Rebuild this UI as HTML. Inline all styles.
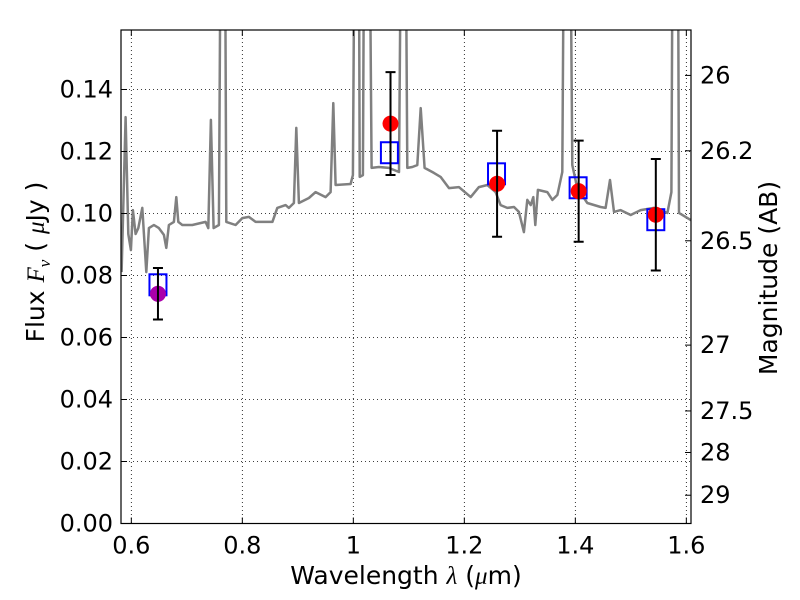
<!DOCTYPE html>
<html><head><meta charset="utf-8"><style>
body{margin:0;background:#fff;}
svg{display:block;font-family:"DejaVu Sans","Liberation Sans",sans-serif;}
</style></head><body>
<svg id="chart" width="800" height="600" viewBox="0 0 800 600" xmlns="http://www.w3.org/2000/svg">
<rect x="0" y="0" width="800" height="600" fill="#fff"/>
<defs><clipPath id="pc"><rect x="121" y="30" width="570" height="493.5"/></clipPath></defs>
<g id="grid"></g>
<g id="spec" clip-path="url(#pc)"></g>
<g id="marks"></g>
<rect x="121" y="30" width="570" height="493.5" fill="none" stroke="#000" stroke-width="1.2"/>
<g id="axes"></g>
<text x="406" y="584" font-size="25" text-anchor="middle">Wavelength  <tspan font-family="Liberation Serif,serif" font-style="italic">λ</tspan> (<tspan font-family="Liberation Serif,serif" font-style="italic">μ</tspan>m)</text>
<text transform="translate(44,262) rotate(-90)" font-size="25" text-anchor="middle">Flux  <tspan font-family="Liberation Serif,serif" font-style="italic">F<tspan font-size="17" dy="6">ν</tspan></tspan><tspan dy="-6">  ( </tspan><tspan font-family="Liberation Serif,serif" font-style="italic">μ</tspan>Jy )</text>
<text transform="translate(777,278) rotate(-90)" font-size="25" text-anchor="middle">Magnitude (AB)</text>
</svg>
<script>
const specWave=[0.5825,0.5897,0.5946,0.5993,0.6029,0.6077,0.6126,0.6198,0.6270,0.6317,0.6407,0.6497,0.6587,0.6631,0.6677,0.6768,0.6811,0.6847,0.6919,0.7099,0.7339,0.7387,0.7434,0.7483,0.7578,0.7627,0.7676,0.7712,0.7879,0.8000,0.8119,0.8240,0.8541,0.8631,0.8780,0.8840,0.8930,0.8973,0.9020,0.9200,0.9321,0.9501,0.9591,0.9640,0.9681,0.9951,0.9993,1.0041,1.0090,1.0114,1.0173,1.0209,1.0270,1.0330,1.0461,1.0641,1.0822,1.0883,1.0924,1.0973,1.1063,1.1153,1.1213,1.1285,1.1452,1.1573,1.1723,1.1903,1.2114,1.2263,1.2414,1.2564,1.2654,1.2775,1.2894,1.2984,1.3074,1.3135,1.3195,1.3243,1.3279,1.3326,1.3495,1.3586,1.3676,1.3766,1.3813,1.3885,1.3946,1.4036,1.4216,1.4456,1.4546,1.4624,1.4696,1.4816,1.4997,1.5177,1.5416,1.5658,1.5730,1.5766,1.5838,1.5867,1.6137];
const specFlux=[0.0811,0.1311,0.0934,0.0882,0.1011,0.0934,0.0953,0.1018,0.0811,0.0953,0.0963,0.0953,0.0931,0.0889,0.0963,0.0973,0.1053,0.0973,0.0963,0.0963,0.0973,0.0953,0.1302,0.0953,0.0963,0.25,0.25,0.0973,0.0963,0.0985,0.0989,0.0973,0.0973,0.1018,0.1027,0.1018,0.1034,0.1276,0.1034,0.1050,0.1069,0.1053,0.1069,0.1356,0.1092,0.1095,0.1124,0.25,0.25,0.1118,0.1124,0.25,0.25,0.1147,0.1150,0.1147,0.1134,0.25,0.25,0.1147,0.1150,0.1156,0.1340,0.1147,0.1131,0.1118,0.1082,0.1085,0.1053,0.1085,0.1092,0.1069,0.1027,0.1018,0.1021,0.1005,0.0940,0.1044,0.1027,0.1053,0.0963,0.1076,0.1069,0.1044,0.1060,0.1134,0.25,0.25,0.1156,0.1082,0.1034,0.1021,0.1018,0.1108,0.1005,0.1011,0.0995,0.1011,0.1018,0.1002,0.1069,0.25,0.25,0.1002,0.0973];
const modelWave=[0.648,1.065,1.258,1.405,1.545];
const modelFlux=[0.0770,0.1196,0.1128,0.1083,0.0980];
const obsWave=[1.067,1.259,1.406,1.545];
const obsFlux=[0.1290,0.1096,0.1072,0.0996];
const obsErr=[0.0166,0.0171,0.0163,0.0180];
const hstWave=[0.648];
const hstFlux=[0.0741];
const hstErr=[0.0083];
const xTicks=[0.6,0.8,1.0,1.2,1.4,1.6];
const xTickLabels=["0.6","0.8","1","1.2","1.4","1.6"];
const yTicks=[0,0.02,0.04,0.06,0.08,0.10,0.12,0.14];
const yTickLabels=["0.00","0.02","0.04","0.06","0.08","0.10","0.12","0.14"];
const magTicks=[26,26.2,26.5,27,27.5,28,29];
const magTickLabels=["26","26.2","26.5","27","27.5","28","29"];

const NS="http://www.w3.org/2000/svg";
const X0=121,X1=691,XMIN=0.5814,XMAX=1.6084,Y0=523.5,YTOP=30,YMAX=(523.5-30)/3100;
const xs=v=>X0+(v-XMIN)/(XMAX-XMIN)*(X1-X0);
const ys=v=>Y0-v/YMAX*(Y0-YTOP);
const magToFlux=m=>Math.pow(10,(23.9-m)/2.5);
function mk(tag,attrs,parent){const e=document.createElementNS(NS,tag);for(const k in attrs)e.setAttribute(k,attrs[k]);parent.appendChild(e);return e;}
const grid=document.getElementById('grid'),axes=document.getElementById('axes'),spec=document.getElementById('spec'),marks=document.getElementById('marks');

xTicks.forEach((t,i)=>{const x=xs(t);
 const g=mk('line',{x1:x,x2:x,y1:YTOP,y2:Y0,stroke:'#000','stroke-width':0.8,'stroke-dasharray':'1,3'},grid);
 
 
 mk('line',{x1:x,x2:x,y1:Y0,y2:Y0-6,stroke:'#000'},axes);
 mk('line',{x1:x,x2:x,y1:YTOP,y2:YTOP+6,stroke:'#000'},axes);
 const tx=mk('text',{x:x,y:Y0+30,'font-size':24,'text-anchor':'middle'},axes);tx.textContent=xTickLabels[i];
 
 
});
yTicks.forEach((t,i)=>{const y=ys(t);
 if(t>0){const g=mk('line',{x1:X0,x2:X1,y1:y,y2:y,stroke:'#000','stroke-width':0.8,'stroke-dasharray':'1,3'},grid);
 
 }
 mk('line',{x1:X0,x2:X0+6,y1:y,y2:y,stroke:'#000'},axes);
 const tx=mk('text',{x:X0-8,y:y+8,'font-size':24,'text-anchor':'end'},axes);tx.textContent=yTickLabels[i];
 
 
});
magTicks.forEach((m,i)=>{const y=ys(magToFlux(m));
 mk('line',{x1:X1,x2:X1-6,y1:y,y2:y,stroke:'#000'},axes);
 const tx=mk('text',{x:X1+9,y:y+8,'font-size':24},axes);tx.textContent=magTickLabels[i];
 
 
});
const pl=mk('polyline',{points:specWave.map((w,i)=>xs(w).toFixed(1)+','+ys(specFlux[i]).toFixed(1)).join(' '),fill:'none',stroke:'#808080','stroke-width':2.5,'stroke-linejoin':'round'},spec);


modelWave.forEach((w,i)=>{const r=mk('rect',{x:xs(w)-8.5,y:ys(modelFlux[i])-10.5,width:17,height:21,fill:'none',stroke:'#0000ff','stroke-width':2},marks);
 
 });
function errPoint(w,f,e,col,name){const x=xs(w),yt=ys(f+e),yb=ys(f-e);
 const c=mk('circle',{cx:x,cy:ys(f),r:8,fill:col},marks);
 
 
 const eb=mk('path',{d:`M${x},${yt}V${yb}M${x-5},${yt}H${x+5}M${x-5},${yb}H${x+5}`,stroke:'#000','stroke-width':2,fill:'none'},marks);
 
 }
hstWave.forEach((w,i)=>errPoint(w,hstFlux[i],hstErr[i],'#aa00aa','hst-point'));
obsWave.forEach((w,i)=>errPoint(w,obsFlux[i],obsErr[i],'#ff0000','observed-point'));
</script>
</body></html>
